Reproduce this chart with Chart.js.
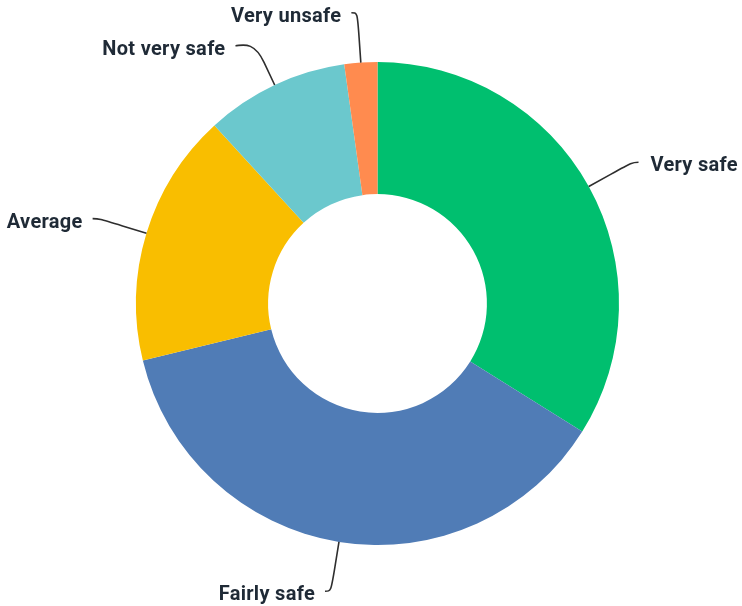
<!DOCTYPE html>
<html>
<head>
<meta charset="utf-8">
<title>Safety rating</title>
<script src="https://cdn.jsdelivr.net/npm/chart.js@4/dist/chart.umd.min.js"></script>
<style>
  html, body { margin: 0; padding: 0; background: #fff; }
  canvas { display: block; }
</style>
</head>
<body>
<canvas id="safetyChart" width="742" height="606"></canvas>
<script>
// Answers, in the order the slices run clockwise from the top
const categories = ['Very safe', 'Fairly safe', 'Average', 'Not very safe', 'Very unsafe'];
const shares = [33.9, 37.3, 17.0, 9.6, 2.2]; // % of respondents
const sliceColors = ['#00bf6f', '#507cb6', '#f9be00', '#6bc8cd', '#ff8b4f'];

// Outside labels with soft curved connectors
const outsideLabels = {
    id: 'outsideLabels',
    afterDraw(chart, args, opts) {
        const ctx = chart.ctx;
        const meta = chart.getDatasetMeta(0);
        const dist = opts.distance;
        const items = meta.data.map((arc, i) => {
            const p = arc.getProps(['x', 'y', 'startAngle', 'endAngle', 'outerRadius'], true);
            const a = (p.startAngle + p.endAngle) / 2;
            const dx = Math.cos(a), dy = Math.sin(a);
            return {
                text: chart.data.labels[i],
                cx: p.x, cy: p.y, R: p.outerRadius, dx, dy,
                side: dx >= 0 ? 1 : -1,
                y: p.y + dy * (p.outerRadius + dist)
            };
        });

        // push labels apart on each side so they don't collide
        [1, -1].forEach(side => {
            const group = items.filter(it => it.side === side).sort((m, n) => m.y - n.y);
            for (let k = 1; k < group.length; k++) {
                if (group[k].y < group[k - 1].y + opts.minGap) {
                    group[k].y = group[k - 1].y + opts.minGap;
                }
            }
        });

        ctx.save();
        ctx.font = opts.font;
        if ('letterSpacing' in ctx) ctx.letterSpacing = '0.3px';
        items.forEach(it => {
            const r = it.R + dist;
            const off = it.y - it.cy;
            const ax = it.cx + it.side * Math.sqrt(Math.max(0, r * r - off * off));
            const ay = it.y;
            const tx = it.cx + it.R * it.dx, ty = it.cy + it.R * it.dy;
            const bx = it.cx + (it.R + dist / 2) * it.dx, by = it.cy + (it.R + dist / 2) * it.dy;
            const ex = ax + it.side * 6;

            ctx.beginPath();
            ctx.moveTo(ex, ay);
            ctx.bezierCurveTo(ax, ay, 2 * bx - tx, 2 * by - ty, bx, by);
            ctx.lineTo(tx, ty);
            ctx.strokeStyle = opts.lineColor;
            ctx.lineWidth = 1.6;
            ctx.stroke();

            ctx.fillStyle = opts.color;
            ctx.textAlign = it.side > 0 ? 'left' : 'right';
            ctx.textBaseline = 'alphabetic';
            ctx.fillText(it.text, ex + it.side * (it.side > 0 ? 12 : 10), ay + 9);
        });
        ctx.restore();
    }
};

new Chart(document.getElementById('safetyChart'), {
    type: 'doughnut',
    data: {
        labels: categories,
        datasets: [{
            data: shares,
            backgroundColor: sliceColors,
            borderWidth: 0,
            hoverOffset: 0
        }]
    },
    options: {
        responsive: false,
        animation: false,
        cutout: '45.3%',
        layout: {
            padding: { left: 136, right: 123, top: 62, bottom: 61 }
        },
        plugins: {
            legend: { display: false },
            tooltip: { enabled: false },
            outsideLabels: {
                distance: 50,
                minGap: 33,
                font: 'bold 20px Roboto',
                color: '#1f2a36',
                lineColor: '#2e2e2e'
            }
        }
    },
    plugins: [outsideLabels]
});
</script>
</body>
</html>
